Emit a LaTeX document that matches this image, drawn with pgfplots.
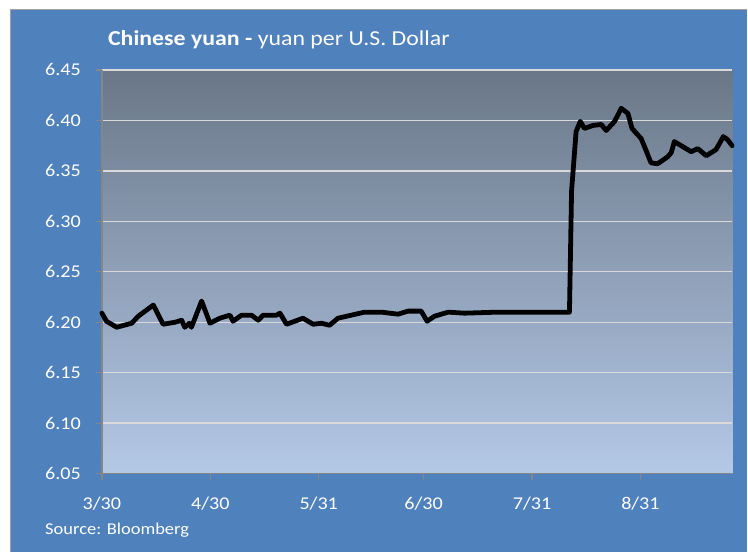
\documentclass[border=0pt]{standalone}
\usepackage{pgfplots}
\pgfplotsset{compat=1.18}
\usepackage{fontspec}
\setmainfont{Carlito}
\definecolor{bgblue}{RGB}{79,129,189}
\definecolor{framegray}{RGB}{160,160,160}
\definecolor{axgray}{RGB}{134,134,134}
\definecolor{gridc}{RGB}{217,217,217}
\definecolor{topc}{RGB}{106,119,136}
\definecolor{botc}{RGB}{180,201,231}
\begin{document}
\begin{tikzpicture}
\fill[white] (0pt,0pt) rectangle (748pt,552pt);
\fill[bgblue] (10.5pt,0pt) rectangle (748pt,542.5pt);
\draw[framegray,line width=1.2pt] (10.5pt,0pt) -- (10.5pt,542.5pt) -- (748pt,542.5pt);
\node[anchor=base west,text=white,font=\fontsize{21.3}{24}\selectfont,inner sep=0pt,xscale=1.12] at (108pt,506pt) {\textbf{Chinese yuan -} yuan per U.S. Dollar};
\node[anchor=base west,text=white,font=\fontsize{16.5}{20}\selectfont,inner sep=0pt,xscale=1.12] at (45pt,17pt) {Source: Bloomberg};
\begin{axis}[
  at={(102pt,78pt)}, anchor=south west,
  scale only axis, width=631pt, height=404pt,
  xmin=0, xmax=180.3, ymin=6.05, ymax=6.45,
  axis background/.style={top color=topc, bottom color=botc},
  axis x line*=bottom, axis y line*=left,
  axis line style={axgray,line width=1.6pt,-},
  xtick={0,31,62,92,123,154},
  xticklabels={3/30,4/30,5/31,6/30,7/31,8/31},
  ytick={6.05,6.10,...,6.45},
  /pgf/number format/fixed,
  /pgf/number format/fixed zerofill,
  /pgf/number format/precision=2,
  /pgf/number format/assume math mode=true,
  ticklabel style={text=white,font=\fontsize{18}{20}\selectfont,xscale=1.12},
  tick style={axgray,line width=1.2pt},
  tick align=outside, major tick length=6pt,
  xticklabel style={yshift=-14pt},
  yticklabel style={xshift=-10pt},
  ymajorgrids, grid style={gridc,line width=1.4pt},
  clip=false,
]
\addplot[black,line width=4.8pt,line join=round,line cap=round] coordinates {
(0,6.209)(1.3,6.201)(4.2,6.195)(8.5,6.199)(10.4,6.206)(14.7,6.217)(17.5,6.198)
(20.9,6.200)(22.8,6.202)(23.7,6.195)(25,6.199)(25.6,6.195)(28.5,6.221)(30.9,6.199)
(33.7,6.204)(36.6,6.207)(37.5,6.201)(39.9,6.207)(42.8,6.207)(44.7,6.202)(46.1,6.207)
(49.9,6.207)(50.9,6.209)(52.8,6.198)(57.5,6.204)(60.4,6.198)(62.8,6.199)(65.1,6.197)
(67.5,6.204)(71.3,6.207)(75.1,6.210)(79.9,6.210)(84.7,6.208)(87.5,6.211)(91.3,6.211)
(93,6.201)(95.1,6.206)(99,6.210)(103.7,6.209)(113.2,6.210)(127.5,6.210)(133.7,6.210)
(134.3,6.330)(135.6,6.389)(136.8,6.399)(138,6.392)(140.4,6.395)(142.8,6.396)(144.2,6.390)
(146.6,6.399)(148.5,6.412)(150.4,6.407)(151.6,6.392)(154.2,6.382)(155.4,6.372)(157,6.358)
(158.9,6.357)(161.8,6.364)(162.8,6.368)(163.7,6.379)(166.1,6.374)(168.5,6.369)(170.4,6.372)
(172.8,6.365)(175.6,6.371)(177.7,6.384)(178.9,6.381)(180.2,6.375)
};
\end{axis}
\end{tikzpicture}
\end{document}
